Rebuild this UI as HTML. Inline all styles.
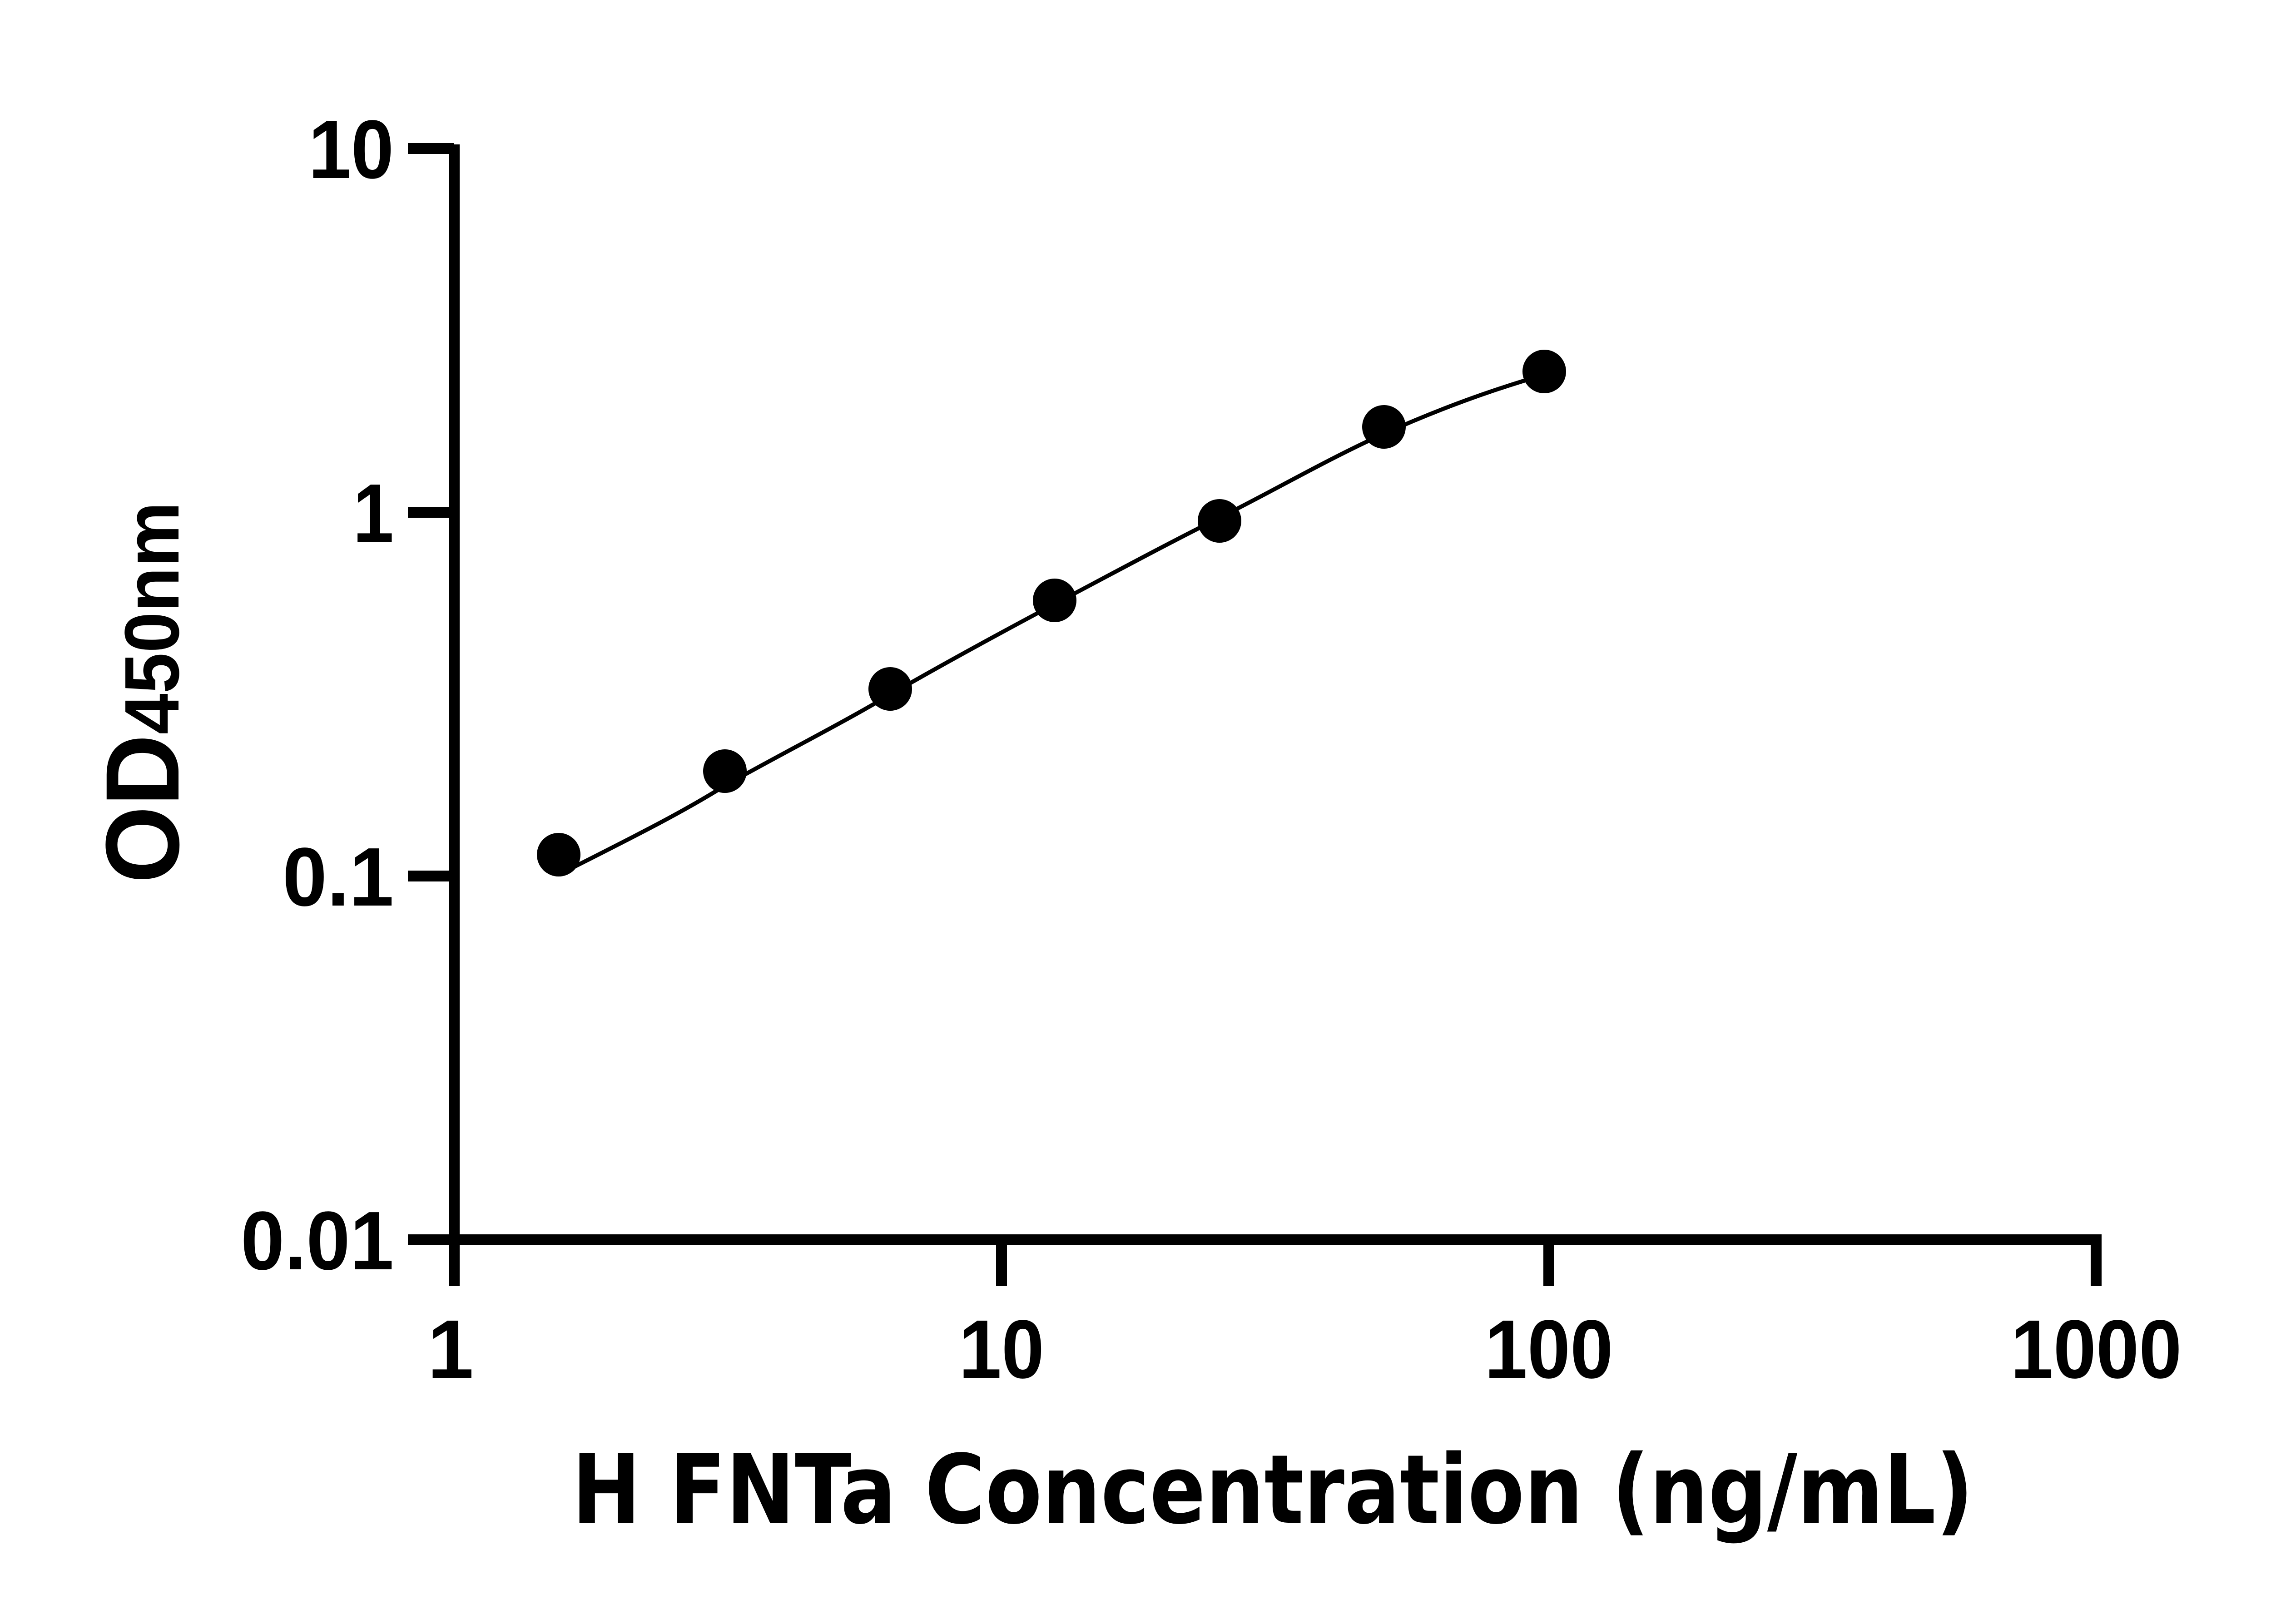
<!DOCTYPE html>
<html><head><style>html,body{margin:0;padding:0;background:#fff}svg{display:block}
.t{font-family:"Liberation Sans",Arial,sans-serif;font-weight:bold}
.d{font-family:"DejaVu Sans","Liberation Sans",sans-serif;font-weight:bold}
</style></head>
<body>
<svg width="5170" height="3576" viewBox="0 0 5170 3576" xmlns="http://www.w3.org/2000/svg">
<rect width="5170" height="3576" fill="#fff"/>
<g stroke="#000" stroke-width="24" fill="none" stroke-linecap="butt">
<line x1="1000" y1="318" x2="1000" y2="2832"/>
<line x1="898" y1="2730" x2="4627" y2="2730"/>
<line x1="898" y1="327" x2="1000" y2="327"/>
<line x1="898" y1="1128" x2="1000" y2="1128"/>
<line x1="898" y1="1929" x2="1000" y2="1929"/>
<line x1="2205" y1="2730" x2="2205" y2="2832"/>
<line x1="3410" y1="2730" x2="3410" y2="2832"/>
<line x1="4615" y1="2718" x2="4615" y2="2832"/>
</g>
<path d="M1238,1922 C1400,1840 1500,1790 1596,1730 C1720,1660 1840,1600 1959,1530 C2080,1460 2200,1395 2322,1330 C2445,1265 2565,1200 2685,1140 C2805,1080 2925,1010 3047,955 C3170,900 3280,860 3400,825" fill="none" stroke="#000" stroke-width="9"/>
<g fill="#000">
<circle cx="1230" cy="1882" r="48"/>
<circle cx="1596" cy="1698" r="48"/>
<circle cx="1960" cy="1517" r="48"/>
<circle cx="2322" cy="1322" r="48"/>
<circle cx="2685" cy="1147" r="48"/>
<circle cx="3047" cy="940" r="48"/>
<circle cx="3400" cy="818" r="48"/>
</g>
<g class="t" font-size="183" fill="#000">
<text x="867" y="392" text-anchor="end" textLength="188" lengthAdjust="spacingAndGlyphs">10</text>
<text x="867" y="1193" text-anchor="end" textLength="90" lengthAdjust="spacingAndGlyphs">1</text>
<text x="867" y="1994" text-anchor="end" textLength="245" lengthAdjust="spacingAndGlyphs">0.1</text>
<text x="867" y="2795" text-anchor="end" textLength="337" lengthAdjust="spacingAndGlyphs">0.01</text>
<text x="992" y="3034" text-anchor="middle">1</text>
<text x="2205" y="3034" text-anchor="middle" textLength="188" lengthAdjust="spacingAndGlyphs">10</text>
<text x="3410" y="3034" text-anchor="middle" textLength="283" lengthAdjust="spacingAndGlyphs">100</text>
<text x="4615" y="3034" text-anchor="middle" textLength="377" lengthAdjust="spacingAndGlyphs">1000</text>
</g>
<text class="d" x="2802" y="3353" text-anchor="middle" font-size="210" textLength="3086" lengthAdjust="spacingAndGlyphs">H FNTa Concentration (ng/mL)</text>
<text class="t" transform="translate(393,1525) rotate(-90)" text-anchor="middle" font-size="230" textLength="840" lengthAdjust="spacingAndGlyphs">OD<tspan font-size="170">450nm</tspan></text>
</svg>
</body></html>
